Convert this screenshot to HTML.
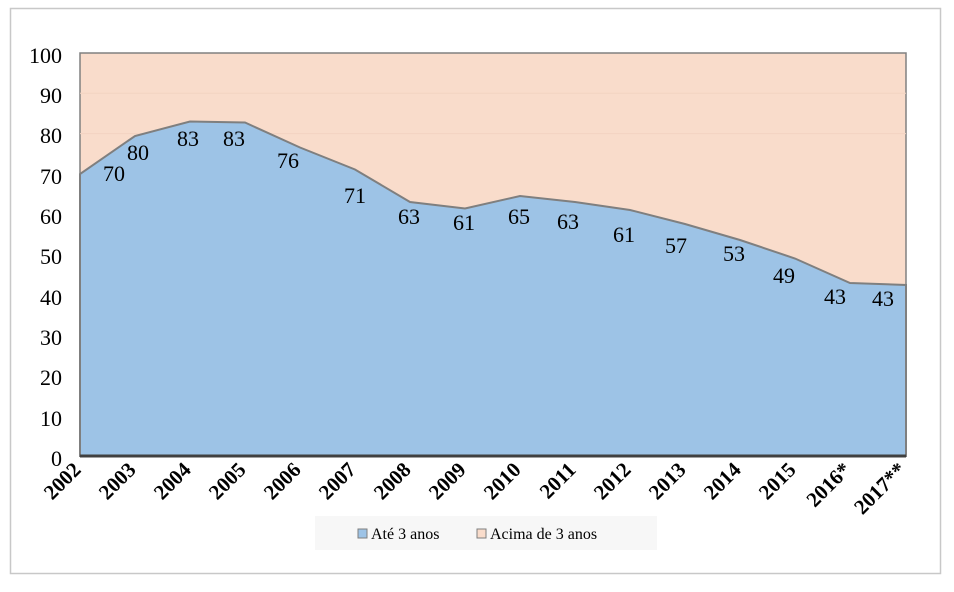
<!DOCTYPE html>
<html><head><meta charset="utf-8"><style>
body{margin:0;background:#fff;}
svg{display:block;font-family:"Liberation Serif",serif;}
</style></head><body>
<svg width="954" height="592" viewBox="0 0 954 592">
<rect x="10.5" y="8.5" width="930" height="565" fill="#fff" stroke="#c8c8c8" stroke-width="1.5"/>
<rect x="80" y="53" width="826" height="403" fill="#f9dccb" stroke="#808080" stroke-width="1.5"/>
<g stroke="#f3d3c2" stroke-width="1">
<line x1="80" x2="906" y1="93.3" y2="93.3"/><line x1="80" x2="906" y1="133.6" y2="133.6"/>
</g>
<polygon fill="#9dc3e6" stroke="#7f7f7f" stroke-width="2" points="80,456 80,174 135,136 190,121.5 245,122.5 300,147.5 355,169.5 410,202 465,208.5 520,196 575,202 630,210 685,224 740,240 795,258.5 850,283 906,285 906,456"/>
<line x1="80" x2="906" y1="456" y2="456" stroke="#404040" stroke-width="3"/>
<g font-size="22" text-anchor="end" fill="#000">
<text x="62" y="63">100</text><text x="62" y="103">90</text><text x="62" y="143">80</text><text x="62" y="184">70</text><text x="62" y="224">60</text><text x="62" y="264">50</text><text x="62" y="305">40</text><text x="62" y="345">30</text><text x="62" y="385">20</text><text x="62" y="426">10</text><text x="62" y="466">0</text>
</g>
<g font-size="22" text-anchor="middle" fill="#000">
<text x="114" y="181">70</text><text x="138" y="160">80</text><text x="188" y="146">83</text><text x="234" y="146">83</text><text x="288" y="168">76</text><text x="355" y="203">71</text><text x="409" y="224">63</text><text x="464" y="230">61</text><text x="519" y="224">65</text><text x="568" y="229">63</text><text x="624" y="242">61</text><text x="676" y="253">57</text><text x="734" y="261">53</text><text x="784" y="283">49</text><text x="835" y="304">43</text><text x="883" y="306">43</text>
</g>
<g font-size="21" font-weight="bold" text-anchor="end" fill="#000">
<text transform="translate(82,471) rotate(-45)">2002</text>
<text transform="translate(137,471) rotate(-45)">2003</text>
<text transform="translate(192,471) rotate(-45)">2004</text>
<text transform="translate(247,471) rotate(-45)">2005</text>
<text transform="translate(302,471) rotate(-45)">2006</text>
<text transform="translate(357,471) rotate(-45)">2007</text>
<text transform="translate(412,471) rotate(-45)">2008</text>
<text transform="translate(467,471) rotate(-45)">2009</text>
<text transform="translate(522,471) rotate(-45)">2010</text>
<text transform="translate(577,471) rotate(-45)">2011</text>
<text transform="translate(632,471) rotate(-45)">2012</text>
<text transform="translate(687,471) rotate(-45)">2013</text>
<text transform="translate(742,471) rotate(-45)">2014</text>
<text transform="translate(797,471) rotate(-45)">2015</text>
<text transform="translate(852,471) rotate(-45)">2016*</text>
<text transform="translate(907,471) rotate(-45)">2017**</text>
</g>
<rect x="315" y="516" width="342" height="34" fill="#f7f7f7"/>
<rect x="358" y="529" width="9" height="9" fill="#9dc3e6" stroke="#7f7f7f"/>
<text x="371" y="539" font-size="16">Até 3 anos</text>
<rect x="477" y="529" width="9" height="9" fill="#f9dccb" stroke="#7f7f7f"/>
<text x="490" y="539" font-size="16">Acima de 3 anos</text>
</svg>
</body></html>
